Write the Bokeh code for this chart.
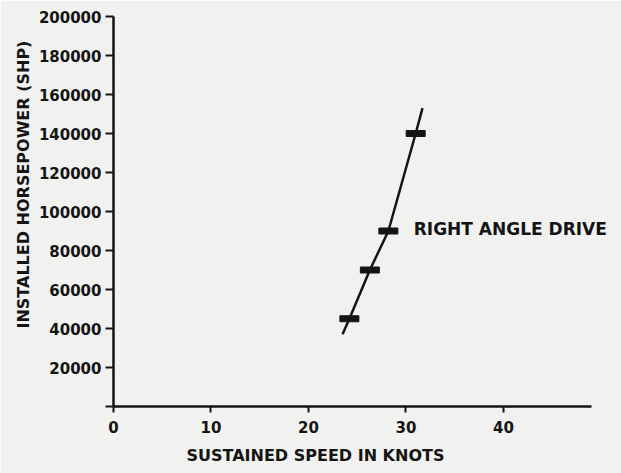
from bokeh.plotting import figure
from bokeh.models import Range1d, FixedTicker, Label, Title
from bokeh.embed import file_html
from bokeh.resources import INLINE

# ---- data ----
speed_line = [23.5, 24.2, 26.3, 28.2, 31.0, 31.7]          # knots
shp_line = [37000, 45000, 70000, 90000, 140000, 153000]    # SHP
speed_pts = [24.2, 26.3, 28.2, 31.0]
shp_pts = [45000, 70000, 90000, 140000]
x_ticks = [0, 10, 20, 30, 40]
y_ticks = [0, 20000, 40000, 60000, 80000, 100000, 120000, 140000, 160000, 180000, 200000]
series_label = "RIGHT ANGLE DRIVE"
x_title = "SUSTAINED SPEED IN KNOTS"
y_title = "INSTALLED HORSEPOWER (SHP)"

INK = "#141414"
PAPER = "#f1f1ef"
FONT = "DejaVu Sans"

p = figure(width=621, height=473, output_backend="svg", toolbar_location=None,
           x_range=Range1d(0, 51.5), y_range=Range1d(0, 200000),
           min_border_left=113, min_border_right=6, min_border_top=16, min_border_bottom=67)
p.background_fill_color = PAPER
p.border_fill_color = PAPER
p.outline_line_color = None
p.grid.visible = False

for ax in (p.xaxis, p.yaxis):
    ax.axis_line_color = INK
    ax.axis_line_width = 2.5
    ax.major_tick_line_color = INK
    ax.major_tick_line_width = 2
    ax.major_tick_in = 0
    ax.minor_tick_line_color = None
    ax.major_label_text_font = FONT
    ax.major_label_text_font_style = "bold"
    ax.major_label_text_font_size = "15px"
    ax.major_label_text_color = INK

p.xaxis.ticker = FixedTicker(ticks=x_ticks)
p.xaxis.bounds = (0, 49)
p.xaxis.major_tick_out = 6
p.xaxis.major_label_standoff = 8

p.yaxis.ticker = FixedTicker(ticks=y_ticks)
p.yaxis.major_tick_out = 8
p.yaxis.major_label_standoff = 4
p.yaxis.major_label_overrides = {0: ""}
p.yaxis.formatter.use_scientific = False

p.line(speed_line, shp_line, line_width=2.5, line_color=INK)
p.rect(speed_pts, shp_pts, width=19, height=6, width_units="screen", height_units="screen",
       fill_color=INK, line_color=INK)

p.add_layout(Label(x=30.8, y=91000, text=series_label, text_font=FONT, text_font_style="bold",
                   text_font_size="17px", text_color=INK, text_baseline="middle", text_align="left"))

p.add_layout(Title(text=x_title, align="left", offset=73, standoff=16, text_font=FONT,
                   text_font_style="bold", text_font_size="16px", text_color=INK), "below")
p.add_layout(Title(text=y_title, align="left", offset=78, standoff=6, text_font=FONT,
                   text_font_style="bold", text_font_size="16px", text_color=INK), "left")

open("out.html", "w").write(file_html(p, INLINE))
